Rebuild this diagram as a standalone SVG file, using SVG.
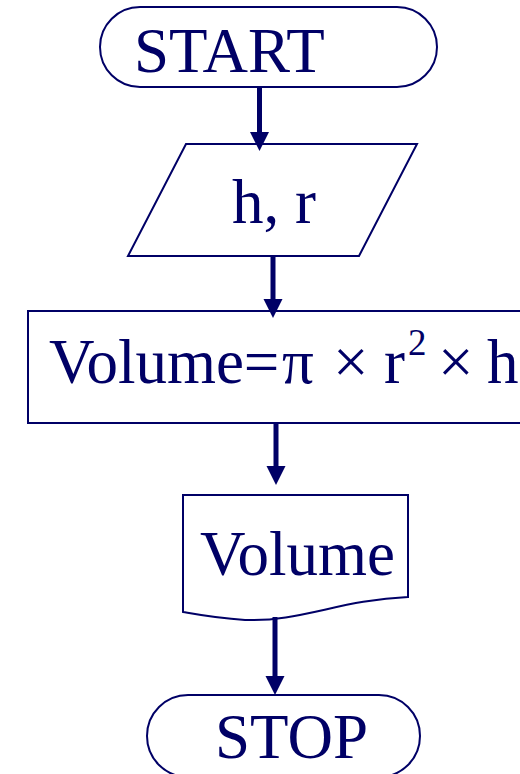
<svg xmlns="http://www.w3.org/2000/svg" width="520" height="774" viewBox="0 0 520 774">
<style>
.shape{fill:#fff;stroke:#000066;stroke-width:2}
.t{font-family:"Liberation Serif","Times New Roman",serif;font-size:63px;fill:#000066}
.c{stroke:#000066;stroke-width:5;fill:none}
.h{fill:#000066}
</style>
<rect width="520" height="774" fill="#fff"/>
<g id="start">
<rect class="shape" x="100" y="7" width="337" height="80" rx="40" ry="40"/>
<text class="t" x="134" y="72">START</text>
</g>
<g id="input">
<polygon class="shape" points="186,144 417,144 359,256 128,256"/>
<text class="t" x="232" y="223">h, r</text>
</g>
<g id="process">
<rect class="shape" x="28" y="311" width="520" height="112"/>
<text class="t" y="383"><tspan x="49">Volume=</tspan><tspan x="282">π</tspan><tspan x="333">×</tspan><tspan x="384">r</tspan><tspan x="408" y="355" font-size="37">2</tspan><tspan x="438" y="383">×</tspan><tspan x="487">h</tspan></text>
</g>
<g id="output">
<path class="shape" d="M183,495 L408,495 L408,597 C340,600 300,622 245,620 C215,618 200,615 183,612 Z"/>
<text class="t" x="200" y="575">Volume</text>
</g>
<g id="stop">
<rect class="shape" x="147" y="695" width="273" height="82" rx="41" ry="41"/>
<text class="t" x="215" y="758">STOP</text>
</g>
<g id="connectors">
<line class="c" x1="259.5" y1="87" x2="259.5" y2="135"/>
<polygon class="h" points="250,132 269,132 259.5,151"/>
<line class="c" x1="273" y1="256" x2="273" y2="302"/>
<polygon class="h" points="263.5,299 282.5,299 273,318"/>
<line class="c" x1="276" y1="423" x2="276" y2="469"/>
<polygon class="h" points="266.5,466 285.5,466 276,485"/>
<line class="c" x1="275" y1="617" x2="275" y2="679"/>
<polygon class="h" points="265.5,676 284.5,676 275,695"/>
</g>
</svg>
